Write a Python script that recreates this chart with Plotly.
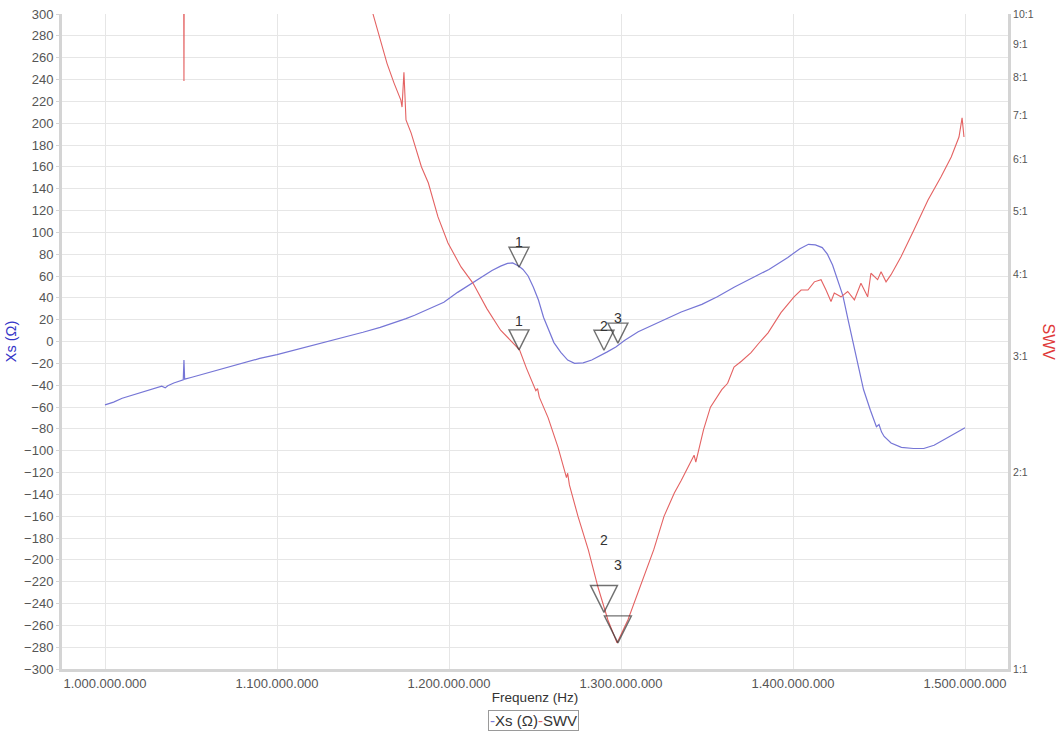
import numpy as np
import plotly.graph_objects as go

# ---------------- data ----------------
# Xs (Ohm) curve, frequency in MHz
xs_freq_mhz = [
    1000, 1005, 1010, 1020, 1030, 1033, 1035, 1036.5, 1040, 1045.5,
    1045.9, 1046.3, 1050, 1060, 1070, 1080, 1090, 1100, 1110, 1120,
    1130, 1140, 1150, 1160, 1168, 1175, 1180, 1185, 1190, 1197,
    1205, 1214, 1220, 1225, 1230, 1234, 1237, 1240.7, 1243, 1246,
    1249, 1252, 1255, 1258, 1261, 1265, 1269, 1273, 1278, 1283,
    1288, 1292, 1297, 1302, 1310, 1321, 1327, 1335, 1347, 1356,
    1366, 1376, 1386, 1397, 1404, 1409, 1413, 1417, 1420, 1423,
    1426, 1429, 1432, 1436, 1441, 1445, 1447, 1448.5, 1450, 1451.5,
    1453, 1457, 1463, 1470, 1476, 1482, 1490, 1500,
]
xs_vals = [
    -58, -55.5, -52, -47, -42, -41, -42.5, -40.5, -38, -35,
    -17, -34.5, -33, -28.5, -24, -19.5, -15.5, -12, -8, -4,
    0, 4, 8.5, 13, 17, 21, 24, 27.5, 31, 36,
    45, 54, 60, 65, 69, 71.5, 72, 69, 66, 60,
    50, 38, 22, 10, -1, -10, -17, -20, -19.5, -17,
    -13, -9.5, -5, 1, 9, 17, 21.5, 27, 34, 41,
    50, 58, 66, 77, 85, 89, 88.5, 86, 80, 70,
    57, 42, 20, -8, -44, -63, -72, -78, -76, -83,
    -87, -93, -97, -98, -98, -95, -88, -79,
]

# SWV (VSWR) curve, frequency in MHz
swv_freq_mhz = [
    1000, 1045.5, 1045.9, 1046.3, 1100, 1150, 1155.8, 1160, 1164, 1168,
    1172, 1172.7, 1173.8, 1175, 1178, 1184, 1188, 1193.6, 1199.4, 1207,
    1214, 1222, 1230, 1236, 1241, 1245, 1247.7, 1250.5, 1251.5, 1252.5,
    1257.6, 1263.4, 1268.3, 1269, 1270, 1275, 1281, 1286.6, 1292.4, 1297.7,
    1304, 1311.6, 1319, 1325, 1331, 1335, 1339, 1342.5, 1343.5, 1348,
    1352, 1355, 1358.6, 1362, 1365.7, 1370, 1375.6, 1380, 1385.5, 1393,
    1400.6, 1404.7, 1408.7, 1412.4, 1416.3, 1419.2, 1422.1, 1424, 1427.9, 1431.8,
    1435.7, 1439.5, 1443.4, 1445.3, 1449.2, 1451.2, 1454.1, 1457, 1462.8, 1470.3,
    1478.5, 1486, 1492, 1496.5, 1498.3, 1499.4,
]
swv_vals = [
    20, 20, 7.9, 20, 20, 14, 10, 9.1, 8.4, 7.85,
    7.39, 7.21, 8.15, 6.89, 6.58, 5.84, 5.52, 4.90, 4.47, 4.11,
    3.88, 3.55, 3.29, 3.17, 3.07, 2.88, 2.76, 2.66, 2.68, 2.60,
    2.42, 2.18, 1.96, 1.99, 1.91, 1.71, 1.52, 1.334, 1.188, 1.096,
    1.188, 1.35, 1.52, 1.71, 1.857, 1.94, 2.03, 2.12, 2.07, 2.32,
    2.51, 2.58, 2.67, 2.73, 2.89, 2.95, 3.04, 3.14, 3.26, 3.50,
    3.70, 3.79, 3.79, 3.90, 3.93, 3.79, 3.64, 3.75, 3.70, 3.77,
    3.66, 3.88, 3.70, 4.02, 3.93, 4.04, 3.90, 4.00, 4.26, 4.68,
    5.20, 5.64, 6.05, 6.49, 6.94, 6.49,
]

# markers
marker_labels = ["1", "2", "3"]
marker_freq_mhz = [1240.7, 1290.1, 1298.2]
marker_xs = [68, -8, -1.5]
marker_swv = [3.07, 1.22, 1.096]

# axis ticks
x_tickvals_mhz = [1000, 1100, 1200, 1300, 1400, 1500]
swv_tickvals = [1, 2, 3, 4, 5, 6, 7, 8, 9, 10]
swv_ticktext = ["1:1", "2:1", "3:1", "4:1", "5:1", "6:1", "7:1", "8:1", "9:1", "10:1"]

# ---------------- style ----------------
FONT = "Liberation Sans, Arial, sans-serif"
BLUE = "#7676d6"
RED = "#e46262"
GRID = "#e6e6e6"
AXLINE = "#d4d4d4"
TICK = "#555555"
MARK = "#333333"
xs_marker_sizes = [20, 20, 20]
swv_marker_sizes = [20, 27, 27]
xs_label_shift = [25, 24, 25]
swv_label_shift = [29, 72, 78]

xs_f = np.array(xs_freq_mhz) * 1e6
swv_f = np.array(swv_freq_mhz) * 1e6
mk_f = np.array(marker_freq_mhz) * 1e6

fig = go.Figure()
fig.add_trace(go.Scatter(x=xs_f, y=xs_vals, mode="lines", name="Xs (Ω)",
                         line=dict(color=BLUE, width=1.2), showlegend=False))
fig.add_trace(go.Scatter(x=swv_f, y=swv_vals, mode="lines", name="SWV", yaxis="y2",
                         line=dict(color=RED, width=1.1), showlegend=False))
fig.add_trace(go.Scatter(x=mk_f, y=marker_xs, mode="markers", showlegend=False,
                         marker=dict(symbol="arrow-down-open", size=xs_marker_sizes,
                                     color=MARK, line=dict(width=1.4, color=MARK))))
fig.add_trace(go.Scatter(x=mk_f, y=marker_swv, mode="markers", yaxis="y2", showlegend=False,
                         marker=dict(symbol="arrow-down-open", size=swv_marker_sizes,
                                     color=MARK, line=dict(width=1.4, color=MARK))))

annotations = []
for lab, f, v, s in zip(marker_labels, mk_f, marker_xs, xs_label_shift):
    annotations.append(dict(x=f, y=v, xref="x", yref="y", text=lab, showarrow=False,
                            xanchor="center", yanchor="middle", yshift=s,
                            font=dict(family=FONT, size=14, color=MARK)))
for lab, f, v, s in zip(marker_labels, mk_f, marker_swv, swv_label_shift):
    annotations.append(dict(x=f, y=np.log10(v), xref="x", yref="y2", text=lab, showarrow=False,
                            xanchor="center", yanchor="middle", yshift=s,
                            font=dict(family=FONT, size=14, color=MARK)))
annotations.append(dict(x=1.0423, y=0.50, xref="paper", yref="paper", text="SWV",
                        textangle=90, showarrow=False, xanchor="center", yanchor="middle",
                        font=dict(family=FONT, size=16, color="#e03a3a")))
annotations.append(dict(x=0.498, y=-0.078, xref="paper", yref="paper", showarrow=False,
                        xanchor="center", yanchor="middle",
                        text=f"<span style='color:{BLUE}'>-</span>Xs (Ω)"
                             f"<span style='color:{RED}'>-</span>SWV",
                        bordercolor="#9a9a9a", borderwidth=1, borderpad=1, bgcolor="white",
                        font=dict(family=FONT, size=15, color="#333333")))

fig.update_layout(
    width=1062, height=735,
    margin=dict(l=62, r=54, t=14, b=66, autoexpand=False),
    paper_bgcolor="white", plot_bgcolor="white",
    separators=",.",
    font=dict(family=FONT, size=12, color=TICK),
    xaxis=dict(range=[975e6, 1525e6], tickvals=np.array(x_tickvals_mhz) * 1e6,
               tickformat=",d", showgrid=True, gridcolor=GRID, gridwidth=1,
               showline=True, linecolor=AXLINE, linewidth=3, ticks="", zeroline=False,
               automargin=False,
               tickfont=dict(family=FONT, size=13, color=TICK),
               title=dict(text="Frequenz (Hz)", standoff=3,
                          font=dict(family=FONT, size=13.5, color="#333333"))),
    yaxis=dict(range=[-300, 300], dtick=20, tick0=0, showgrid=True, gridcolor=GRID,
               showline=True, linecolor=AXLINE, linewidth=3, zeroline=False,
               ticks="outside", ticklen=3, tickcolor=AXLINE, automargin=False,
               tickfont=dict(family=FONT, size=13, color=TICK),
               title=dict(text="Xs (Ω)", standoff=5,
                          font=dict(family=FONT, size=14.5, color="#3535c8"))),
    yaxis2=dict(overlaying="y", side="right", type="log", range=[0, 1],
                tickvals=swv_tickvals, ticktext=swv_ticktext, showgrid=False,
                showline=True, linecolor=AXLINE, linewidth=3, ticks="", zeroline=False,
                automargin=False,
                tickfont=dict(family=FONT, size=10.5, color=TICK)),
    annotations=annotations,
)

fig.write_html("out.html")
